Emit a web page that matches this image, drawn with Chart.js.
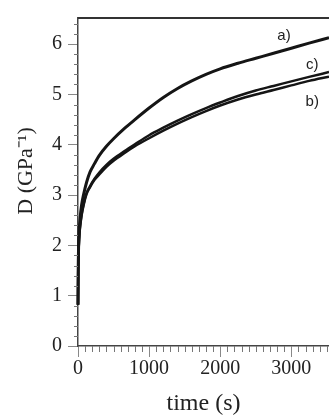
<!DOCTYPE html>
<html>
<head>
<meta charset="utf-8">
<script src="https://cdn.jsdelivr.net/npm/chart.js@4"></script>
<style>
  body { margin: 0; background: #fff; }
  canvas { display: block; }
</style>
</head>
<body>
<canvas id="myChart" width="329" height="419"></canvas>
<script>
const times = [0, 3, 8, 15, 30, 50, 80, 120, 170, 230, 300, 400, 500, 650, 800, 1000, 1200, 1400, 1600, 1800, 2000, 2250, 2500, 2750, 3000, 3250, 3530];
const curveA = [0.82, 1.5, 1.95, 2.25, 2.55, 2.8, 3.02, 3.25, 3.46, 3.62, 3.79, 3.97, 4.12, 4.32, 4.5, 4.73, 4.94, 5.12, 5.27, 5.4, 5.51, 5.62, 5.72, 5.82, 5.92, 6.02, 6.13];
const curveC = [0.82, 1.46, 1.86, 2.13, 2.39, 2.61, 2.83, 3.04, 3.18, 3.32, 3.45, 3.6, 3.72, 3.87, 4.01, 4.19, 4.34, 4.48, 4.61, 4.73, 4.84, 4.97, 5.08, 5.17, 5.26, 5.35, 5.445];
const curveB = [0.82, 1.44, 1.84, 2.11, 2.37, 2.59, 2.81, 3.02, 3.16, 3.3, 3.41, 3.56, 3.68, 3.83, 3.97, 4.13, 4.28, 4.42, 4.55, 4.67, 4.78, 4.9, 5.0, 5.09, 5.18, 5.27, 5.355];

const curveLabels = ['a)', 'c)', 'b)'];
const labelTimes = [2897, 3295, 3295];
const labelValues = [6.16, 5.58, 4.85];

const xTickValues = [0, 1000, 2000, 3000];
const yTickValues = [0, 1, 2, 3, 4, 5, 6];

const serif = '"Liberation Serif", "Times New Roman", serif';

function toPoints(values) {
  return times.map((t, i) => ({ x: t, y: values[i] }));
}

function lineSet(label, values, width) {
  return {
    label: label,
    data: toPoints(values),
    borderColor: '#151515',
    borderWidth: width,
    pointRadius: 0,
    cubicInterpolationMode: 'monotone',
    clip: false
  };
}

// -- ** minor ticks, top frame and curve names ** -- \\
const axisExtras = {
  id: 'axisExtras',
  afterDraw(chart) {
    const { ctx, chartArea: area, scales: { x, y } } = chart;
    ctx.save();
    ctx.strokeStyle = '#777';
    ctx.lineWidth = 1;
    ctx.beginPath();
    for (let t = 100; t < x.max; t += 100) {
      if (t % 1000 === 0) continue;
      const px = Math.round(x.getPixelForValue(t)) + 0.5;
      ctx.moveTo(px, area.bottom);
      ctx.lineTo(px, area.bottom + 6);
    }
    for (let k = 1; k * 0.2 < y.max; k++) {
      if (k % 5 === 0) continue;
      const py = Math.round(y.getPixelForValue(k * 0.2)) + 0.5;
      ctx.moveTo(area.left - 4, py);
      ctx.lineTo(area.left, py);
    }
    ctx.stroke();

    ctx.strokeStyle = '#333';
    ctx.lineWidth = 2;
    ctx.beginPath();
    ctx.moveTo(area.left, area.top);
    ctx.lineTo(area.right, area.top);
    ctx.stroke();

    ctx.fillStyle = '#222';
    ctx.font = '15px "Liberation Sans", Arial, sans-serif';
    ctx.textAlign = 'center';
    ctx.textBaseline = 'middle';
    curveLabels.forEach((txt, i) => {
      ctx.fillText(txt, x.getPixelForValue(labelTimes[i]), y.getPixelForValue(labelValues[i]));
    });
    ctx.restore();
  }
};

const config = {
  type: 'line',
  data: {
    datasets: [
      lineSet('a)', curveA, 3),
      lineSet('c)', curveC, 2.5),
      lineSet('b)', curveB, 2.5)
    ]
  },
  options: {
    responsive: false,
    animation: false,
    devicePixelRatio: 1,
    layout: { padding: { top: 6, left: 0, right: 0, bottom: 0 } },
    plugins: { legend: { display: false }, tooltip: { enabled: false } },
    scales: {
      x: {
        type: 'linear',
        min: 0,
        max: 3530,
        afterBuildTicks: (axis) => {
          axis.ticks = xTickValues.map((v) => ({ value: v }));
        },
        afterFit: (axis) => { axis.height = 73; },
        grid: { drawOnChartArea: false, tickLength: 11, tickColor: '#888', tickWidth: 1 },
        border: { color: '#444', width: 1.5 },
        ticks: {
          color: '#222',
          padding: 0,
          font: { family: serif, size: 20 },
          maxRotation: 0,
          callback: (value) => String(value)
        },
        title: {
          display: true,
          text: 'time (s)',
          color: '#222',
          font: { family: serif, size: 24 },
          padding: { top: 0, bottom: 1 }
        }
      },
      y: {
        type: 'linear',
        min: 0,
        max: 6.52,
        afterBuildTicks: (axis) => {
          axis.ticks = yTickValues.map((v) => ({ value: v }));
        },
        afterFit: (axis) => { axis.width = 78; },
        grid: { drawOnChartArea: false, tickLength: 10, tickColor: '#888', tickWidth: 1 },
        border: { color: '#444', width: 1.5 },
        ticks: {
          color: '#222',
          padding: 6,
          font: { family: serif, size: 20 },
          callback: (value) => String(value)
        },
        title: {
          display: true,
          // leading spaces nudge the rotated title upward, as in the picture
          text: '    D (GPa⁻¹)',
          color: '#222',
          font: { family: serif, size: 22 },
          padding: { top: 13, bottom: 0 }
        }
      }
    }
  },
  plugins: [axisExtras]
};

window.myChart = new Chart(document.getElementById('myChart'), config);
</script>
</body>
</html>
